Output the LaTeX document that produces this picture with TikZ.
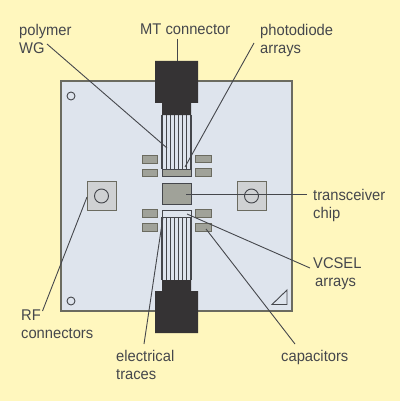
\documentclass[tikz,border=0pt]{standalone}
\usepackage{fontspec}
\setmainfont[FakeStretch=0.95]{Liberation Sans}
\definecolor{paper}{HTML}{FFF7BE}
\definecolor{board}{HTML}{DEE4ED}
\definecolor{edge}{HTML}{6B6B60}
\definecolor{ink}{HTML}{45474C}
\definecolor{part}{HTML}{A0A299}
\definecolor{pad}{HTML}{CFD1D3}
\definecolor{plug}{HTML}{353334}
\tikzset{
  leader/.style={draw=ink,line width=0.9pt},
  label/.style={text=ink,font=\fontsize{15.5}{18}\selectfont,inner sep=0pt,align=left,anchor=north west},
  capbox/.style={draw=edge,fill=part,line width=0.9pt,minimum width=15.5pt,minimum height=7.5pt,inner sep=0pt},
  rfbox/.style={draw=edge,fill=pad,line width=1pt,minimum size=29pt,inner sep=0pt},
  hole/.style={circle,draw=ink,line width=0.9pt,inner sep=0pt},
}
\begin{document}
\begin{tikzpicture}[x=1pt,y=-1pt]
  \fill[paper] (0,0) rectangle (400,401);
  \useasboundingbox (0,0) rectangle (400,401);
  % board
  \draw[edge,fill=board,line width=1.3pt] (61,81) rectangle (292,311);
  \node[hole,minimum size=8pt] (holeA) at (71,96) {};
  \node[hole,minimum size=8pt] (holeB) at (71,301) {};
  \draw[ink,line width=0.9pt] (272,304.5) -- (287,304.5) -- (287,290) -- cycle;
  % fibres, top and bottom
  \foreach \x in {162,166.2,170.3,174.5,178.6,182.8,186.9,191}{
    \draw[ink,line width=1.1pt] (\x,115) -- (\x,169);
    \draw[ink,line width=1.1pt] (\x,217) -- (\x,280);
  }
  % connectors
  \fill[plug] (155,61) rectangle (198,103) (162,103) rectangle (191,115);
  \fill[plug] (155,291) rectangle (198,333) (162,280) rectangle (191,291);
  % parts
  \node[capbox] (capA) at (150,159.5) {};
  \node[capbox] (capB) at (150,173) {};
  \node[capbox] (capC) at (203.5,159) {};
  \node[capbox] (capD) at (203.5,172.5) {};
  \node[capbox] (capE) at (150,213.5) {};
  \node[capbox] (capF) at (150,227.5) {};
  \node[capbox] (capG) at (203.5,213.5) {};
  \node[capbox] (capH) at (203.5,227.5) {};
  \node[draw=ink,fill=part,line width=1pt,minimum width=29pt,minimum height=7pt,inner sep=0pt] (photo) at (176.5,172.5) {};
  \node[draw=ink,fill=part,line width=1pt,minimum width=29pt,minimum height=21pt,inner sep=0pt] (chip) at (176.5,193.5) {};
  \node[draw=ink,fill=board,line width=1pt,minimum width=29pt,minimum height=7pt,inner sep=0pt] (vcsel) at (176.5,213.5) {};
  \node[rfbox] (rfA) at (101.5,196) {};
  \node[rfbox] (rfB) at (251.5,196) {};
  \node[hole,minimum size=14pt] (ringA) at (rfA) {};
  \node[hole,minimum size=14pt] (ringB) at (rfB) {};
  % labels
  \node[label] (mt) at (140,24) {MT connector};
  \node[label] (wg) at (19,24) {polymer\\WG};
  \node[label] (pd) at (260,24) {photodiode\\arrays};
  \node[label] (tc) at (313,189) {transceiver\\chip};
  \node[label] (vc) at (313,257) {VCSEL\\\hspace{2pt}arrays};
  \node[label] (rf) at (21,310) {RF\\connectors};
  \node[label] (et) at (116,350) {electrical\\traces};
  \node[label] (cp) at (281,350) {capacitors};
  % leaders
  \coordinate (mtEnd) at (177.5,61);
  \coordinate (wgEnd) at (167,148);
  \coordinate (pdEnd) at (185,167);
  \coordinate (tcEnd) at (186,194);
  \coordinate (vcEnd) at (187,214);
  \coordinate (cpEnd) at (206,229);
  \coordinate (etEnd) at (163,217);
  \coordinate (rfEnd) at (87,197);
  \coordinate (mtTail) at (177.5,39);
  \coordinate (wgTail) at (47,44);
  \coordinate (pdTail) at (254,43);
  \coordinate (tcTail) at (307,194);
  \coordinate (vcTail) at (310,268);
  \coordinate (cpTail) at (295,344);
  \coordinate (etTail) at (144,344);
  \coordinate (rfTail) at (42.5,311);
  \draw[leader] (mtTail) -- (mtEnd);
  \draw[leader] (wgTail) -- (wgEnd);
  \draw[leader] (pdTail) -- (pdEnd);
  \draw[leader] (tcTail) -- (tcEnd);
  \draw[leader] (vcTail) -- (vcEnd);
  \draw[leader] (cpTail) -- (cpEnd);
  \draw[leader] (etTail) -- (etEnd);
  \draw[leader] (rfTail) -- (rfEnd);
\end{tikzpicture}
\end{document}
